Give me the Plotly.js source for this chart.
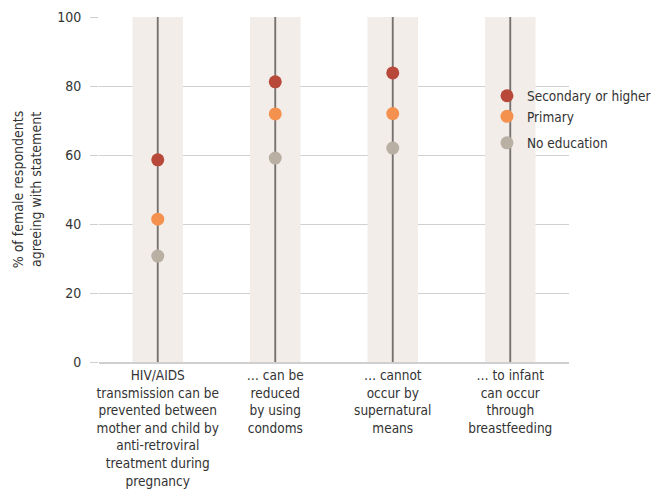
<!DOCTYPE html>
<html><head><meta charset="utf-8">
<script src="https://cdn.plot.ly/plotly-3.0.1.min.js"></script>
<style>html,body{margin:0;padding:0;background:#fff}</style>
</head><body><div id="chart" style="width:655px;height:490px"></div>
<script>
const categories = [
  "HIV/AIDS<br>transmission can be<br>prevented between<br>mother and child by<br>anti-retroviral<br>treatment during<br>pregnancy",
  "… can be<br>reduced<br>by using<br>condoms",
  "… cannot<br>occur by<br>supernatural<br>means",
  "… to infant<br>can occur<br>through<br>breastfeeding"
];
const seriesNames = ["Secondary or higher", "Primary", "No education"];
const secondary = [58.6, 81.2, 83.8, null];
const primary   = [41.4, 71.9, 72.0, null];
const noEdu     = [30.7, 59.1, 62.0, null];
const bandTop = [100, 100, 100, 100];
const yTicks = [0, 20, 40, 60, 80, 100];

const FONT = '"Liberation Sans Narrow", "DejaVu Sans Condensed", "Roboto", sans-serif';
const colors = ["#b8483a", "#f4914f", "#b9b0a3"];
const xIdx = categories.map((c, i) => i);

const traces = [
  {type: 'bar', x: xIdx, y: bandTop, width: 0.43, marker: {color: '#f2ede9', line: {width: 0}}, showlegend: false, hoverinfo: 'skip'},
  {type: 'bar', x: xIdx, y: bandTop, width: 0.016, marker: {color: '#77726f', line: {width: 0}}, showlegend: false, hoverinfo: 'skip'}
];
[secondary, primary, noEdu].forEach((vals, k) => {
  traces.push({
    type: 'scatter', mode: 'markers', x: xIdx, y: vals, name: seriesNames[k],
    legendgroup: k < 2 ? 'g1' : 'g2',
    marker: {color: colors[k], size: 13}
  });
});

const layout = {
  width: 655, height: 490,
  margin: {l: 99, r: 86, t: 17, b: 128, autoexpand: false},
  paper_bgcolor: '#fff', plot_bgcolor: '#fff',
  barmode: 'overlay',
  font: {family: FONT, size: 14, color: '#333'},
  xaxis: {
    range: [-0.5, 3.5], tickvals: xIdx, ticktext: categories,
    showgrid: false, zeroline: false, ticks: '', showline: true,
    linecolor: '#cfcfcf', linewidth: 2,
    tickfont: {family: FONT, size: 13.5, color: '#333'}, fixedrange: true
  },
  yaxis: {
    range: [0, 100], tickvals: yTicks, ticktext: yTicks.map(String),
    showgrid: true, gridcolor: '#d0d0d0', gridwidth: 1, zeroline: false,
    ticks: 'outside', ticklen: 8, tickcolor: '#cfcfcf', ticklabelstandoff: 6,
    tickfont: {family: FONT, size: 14, color: '#333'},
    title: {text: '% of female respondents<br>agreeing with statement', font: {family: FONT, size: 14, color: '#333'}, standoff: 12},
    fixedrange: true
  },
  showlegend: true,
  legend: {
    x: 0.8255, xanchor: 'left', y: 0.816, yanchor: 'top',
    bgcolor: 'rgba(0,0,0,0)', borderwidth: 0,
    font: {family: FONT, size: 13.5, color: '#333'},
    traceorder: 'grouped', tracegroupgap: 6
  }
};
Plotly.newPlot('chart', traces, layout, {displayModeBar: false, staticPlot: true});
</script></body></html>
